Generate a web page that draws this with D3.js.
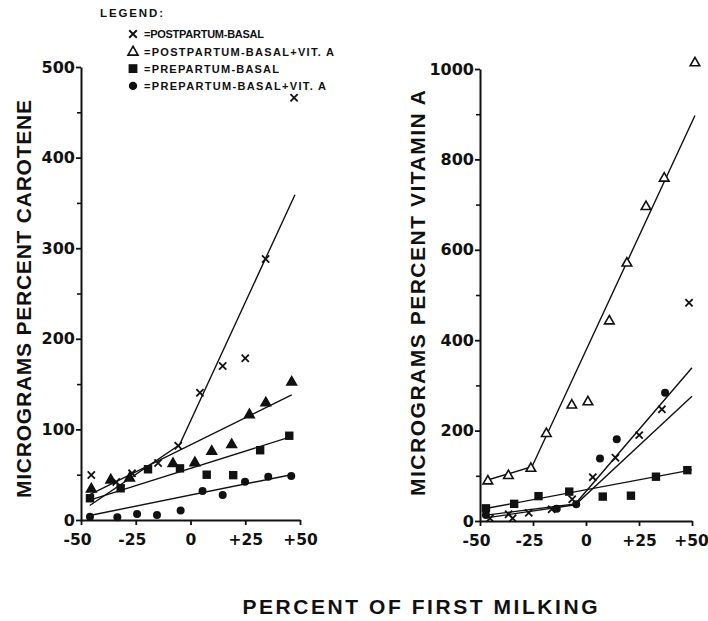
<!DOCTYPE html>
<html><head><meta charset="utf-8">
<script src="https://cdn.jsdelivr.net/npm/d3@7"></script>
<style>body{margin:0;background:#fff}svg{display:block}</style>
</head><body>
<svg id="c" width="708" height="621"></svg>
<script>
// ---------- data ----------
const xTicks = [-50, -25, 0, 25, 50];
const xTickLabels = ["-50", "-25", "0", "+25", "+50"];
const leftYTicks = [0, 100, 200, 300, 400, 500];
const leftYMinor = [50, 150, 250, 350, 450];
const rightYTicks = [0, 200, 400, 600, 800, 1000];
const rightYMinor = [100, 300, 500, 700, 900];
const legendLabels = ["=POSTPARTUM-BASAL", "=POSTPARTUM-BASAL+VIT. A", "=PREPARTUM-BASAL", "=PREPARTUM-BASAL+VIT. A"];
const legendSymbols = ["x", "triOpen", "sq", "dot"];

// Left panel: micrograms percent carotene
const carPostBasal = [[-45.3,49.7],[-33.9,42],[-26.7,51.5],[-14.8,63],[-5.6,82],[4.3,140.5],[14.7,170],[25,178.5],[34.3,288],[47.3,466]];
const carPostVitA = [[-45.3,35],[-36.4,45],[-27.8,47],[-8,63],[2,64],[9.7,76.5],[18.8,84],[26.9,117],[34.4,130],[46.2,153]];
const carPreBasal = [[-45.9,24],[-31.9,35],[-19.4,56],[-4.8,57],[7.4,50],[19.5,49.5],[31.8,77],[45.1,93]];
const carPreVitA = [[-45.9,3.6],[-33.4,3],[-24.4,6.6],[-15.3,5.5],[-4.5,10.5],[5.5,32],[14.7,27.6],[24.9,42.3],[35.5,47.8],[46,48.6]];
const carPostBasalFit = [[-46,16],[-5,83],[47.7,359]];
const carPostVitAFit = [[-46,28],[46.2,138]];
const carPreBasalFit = [[-46,22],[46,92]];
const carPreVitAFit = [[-46,5],[46,50]];

// Right panel: micrograms percent vitamin A
const vitPostBasal = [[-45.3,6],[-36.5,15],[-34.6,6],[-27,18],[-16.2,26],[-6.5,48],[3.2,97],[13.9,140],[25.1,190],[35.8,247],[48.6,483]];
const vitPostVitA = [[-46.3,90],[-36.6,102],[-26,118],[-18.7,195],[-6.7,258],[0.9,265],[11,444],[19.3,572],[28.3,697],[36.9,760],[51.4,1015]];
const vitPreBasal = [[-47.2,28],[-33.9,38],[-22.4,55],[-7.9,65],[7.9,54],[21.2,56],[33,98],[47.8,112.5]];
const vitPreVitA = [[-47.2,13],[-13.8,27],[-4.6,37],[6.6,138.5],[14.5,181],[37.3,284]];
const vitPostBasalFit = [[-47,7],[-5,36],[50,276]];
const vitPostVitAFit = [[-48,88.5],[-25.5,120],[51.4,897]];
const vitPreBasalFit = [[-48,27],[50,113]];
const vitPreVitAFit = [[-47,13],[-5,38],[50,339]];

// ---------- drawing ----------
const svg = d3.select("#c");
const NUMFONT = "'DejaVu Sans', sans-serif";
const TXTFONT = "'Liberation Sans', Arial, sans-serif";

function marker(g, type, cx, cy, s) {
  s = s || 1;
  if (type === "x") {
    const d = 3.6 * s;
    g.append("path").attr("d", `M${cx-d},${cy-d}L${cx+d},${cy+d}M${cx+d},${cy-d}L${cx-d},${cy+d}`)
      .attr("stroke", "#111").attr("stroke-width", 1.8 * s).attr("fill", "none");
  } else if (type === "tri" || type === "triOpen") {
    const h = 4.8 * s;
    g.append("path").attr("d", `M${cx},${cy-h}L${cx+h},${cy+h*0.75}L${cx-h},${cy+h*0.75}Z`)
      .attr("fill", type === "tri" ? "#111" : "#fff").attr("stroke", "#111").attr("stroke-width", 1.6);
  } else if (type === "sq") {
    const h = 4.2 * s;
    g.append("rect").attr("x", cx-h).attr("y", cy-h).attr("width", 2*h).attr("height", 2*h).attr("fill", "#111");
  } else {
    g.append("circle").attr("cx", cx).attr("cy", cy).attr("r", 4 * s).attr("fill", "#111");
  }
}

function panel(cfg) {
  const x = d3.scaleLinear().domain([-50, 50]).range(cfg.xr);
  const y = d3.scaleLinear().domain([0, cfg.ymax]).range(cfg.yr);
  const g = svg.append("g");

  // y axis
  const ya = g.append("g").attr("transform", `translate(${cfg.xr[0]},0)`)
    .call(d3.axisLeft(y).tickValues(cfg.yTicks).tickSize(5).tickSizeOuter(0).tickPadding(1)
      .tickFormat(d3.format("d")));
  ya.select(".domain").attr("stroke", "#111").attr("stroke-width", 2);
  ya.selectAll(".tick line").attr("stroke", "#111").attr("stroke-width", 1.8);
  ya.selectAll(".tick text").attr("font-family", NUMFONT).attr("font-weight", "bold")
    .attr("font-size", 16).attr("fill", "#111");
  const ym = g.append("g").attr("transform", `translate(${cfg.xr[0]},0)`)
    .call(d3.axisLeft(y).tickValues(cfg.yMinor).tickSize(4).tickFormat(""));
  ym.select(".domain").remove();
  ym.selectAll(".tick line").attr("stroke", "#111").attr("stroke-width", 1.6);

  // x axis
  const xa = g.append("g").attr("transform", `translate(0,${cfg.yr[0]})`)
    .call(d3.axisBottom(x).tickValues(xTicks).tickSize(5).tickSizeOuter(0).tickPadding(9)
      .tickFormat((d, i) => xTickLabels[i]));
  xa.select(".domain").attr("stroke", "#111").attr("stroke-width", 2);
  xa.selectAll(".tick line").attr("stroke", "#111").attr("stroke-width", 1.8);
  xa.selectAll(".tick text").attr("font-family", NUMFONT).attr("font-weight", "bold")
    .attr("font-size", 15.5).attr("fill", "#111")
    .attr("dx", d => d < 0 ? -4 : (d === 50 && cfg.shiftLast ? -1 : 0));

  // fitted lines
  const line = d3.line().x(d => x(d[0])).y(d => y(d[1]));
  cfg.fits.forEach(f => {
    g.append("path").attr("d", line(f)).attr("fill", "none").attr("stroke", "#111").attr("stroke-width", 1.4);
  });
  // points
  cfg.series.forEach(s => {
    s.data.forEach(p => marker(g, s.type, x(p[0]), y(p[1])));
  });

  // y title
  g.append("text").attr("transform", `translate(${cfg.titleX},${cfg.titleY}) rotate(-90)`)
    .attr("text-anchor", "middle").attr("font-family", TXTFONT).attr("font-weight", "bold")
    .attr("font-size", 21).attr("fill", "#111")
    .attr("textLength", cfg.titleLen).attr("lengthAdjust", "spacing")
    .text(cfg.title);
}

panel({
  xr: [81, 300], yr: [520, 67], ymax: 500, yTicks: leftYTicks, yMinor: leftYMinor,
  fits: [carPostBasalFit, carPostVitAFit, carPreBasalFit, carPreVitAFit],
  series: [
    {type: "x", data: carPostBasal}, {type: "tri", data: carPostVitA},
    {type: "sq", data: carPreBasal}, {type: "dot", data: carPreVitA}],
  title: "MICROGRAMS   PERCENT   CAROTENE", titleX: 31, titleY: 299, titleLen: 398
});

panel({
  xr: [480, 692], yr: [521, 69], ymax: 1000, yTicks: rightYTicks, yMinor: rightYMinor,
  fits: [vitPostBasalFit, vitPostVitAFit, vitPreBasalFit, vitPreVitAFit],
  series: [
    {type: "x", data: vitPostBasal}, {type: "triOpen", data: vitPostVitA},
    {type: "sq", data: vitPreBasal}, {type: "dot", data: vitPreVitA}],
  title: "MICROGRAMS   PERCENT   VITAMIN A", titleX: 425, titleY: 293, titleLen: 406,
  shiftLast: true
});

// x title
svg.append("text").attr("x", 420).attr("y", 614).attr("text-anchor", "middle")
  .attr("font-family", TXTFONT).attr("font-weight", "bold").attr("font-size", 21).attr("fill", "#111")
  .attr("textLength", 355).attr("lengthAdjust", "spacing")
  .text("PERCENT  OF FIRST  MILKING");

// legend
const lg = svg.append("g");
lg.append("text").attr("x", 100).attr("y", 17).attr("font-family", TXTFONT).attr("font-weight", "bold")
  .attr("font-size", 11.5).attr("fill", "#111")
  .attr("textLength", 63).attr("lengthAdjust", "spacing").text("LEGEND:");
const legendLen = [120, 190, 135, 182];
legendLabels.forEach((lab, i) => {
  const yy = 34 + i * 17.3;
  marker(lg, legendSymbols[i], 133, yy, 1.05);
  lg.append("text").attr("x", 144).attr("y", yy + 4.2).attr("font-family", TXTFONT).attr("font-weight", "bold")
    .attr("font-size", 11).attr("fill", "#111")
    .attr("textLength", legendLen[i]).attr("lengthAdjust", "spacing").text(lab);
});
</script>
</body></html>
